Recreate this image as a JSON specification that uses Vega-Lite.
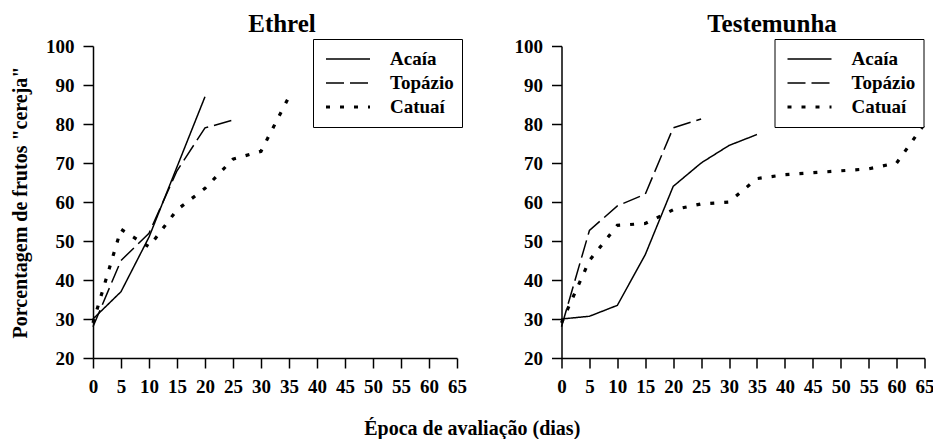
{
  "$schema": "https://vega.github.io/schema/vega-lite/v6.json",
  "background": "white",
  "padding": {"left": 10, "top": 12, "right": 0, "bottom": 0},
  "data": {
    "values": [
      {"trat": "Ethrel", "cultivar": "Acaía", "dia": 0, "pct": 30},
      {"trat": "Ethrel", "cultivar": "Acaía", "dia": 5, "pct": 37},
      {"trat": "Ethrel", "cultivar": "Acaía", "dia": 10, "pct": 51},
      {"trat": "Ethrel", "cultivar": "Acaía", "dia": 15, "pct": 69},
      {"trat": "Ethrel", "cultivar": "Acaía", "dia": 20, "pct": 87},
      {"trat": "Ethrel", "cultivar": "Topázio", "dia": 0, "pct": 28},
      {"trat": "Ethrel", "cultivar": "Topázio", "dia": 5, "pct": 45},
      {"trat": "Ethrel", "cultivar": "Topázio", "dia": 10, "pct": 52},
      {"trat": "Ethrel", "cultivar": "Topázio", "dia": 15, "pct": 68},
      {"trat": "Ethrel", "cultivar": "Topázio", "dia": 20, "pct": 79},
      {"trat": "Ethrel", "cultivar": "Topázio", "dia": 25, "pct": 81},
      {"trat": "Ethrel", "cultivar": "Catuaí", "dia": 0, "pct": 29},
      {"trat": "Ethrel", "cultivar": "Catuaí", "dia": 5, "pct": 53},
      {"trat": "Ethrel", "cultivar": "Catuaí", "dia": 10, "pct": 48.5},
      {"trat": "Ethrel", "cultivar": "Catuaí", "dia": 15, "pct": 58},
      {"trat": "Ethrel", "cultivar": "Catuaí", "dia": 20, "pct": 63.5},
      {"trat": "Ethrel", "cultivar": "Catuaí", "dia": 25, "pct": 71},
      {"trat": "Ethrel", "cultivar": "Catuaí", "dia": 30, "pct": 73},
      {"trat": "Ethrel", "cultivar": "Catuaí", "dia": 35, "pct": 87},
      {"trat": "Testemunha", "cultivar": "Acaía", "dia": 0, "pct": 30},
      {"trat": "Testemunha", "cultivar": "Acaía", "dia": 5, "pct": 30.7},
      {"trat": "Testemunha", "cultivar": "Acaía", "dia": 10, "pct": 33.5},
      {"trat": "Testemunha", "cultivar": "Acaía", "dia": 15, "pct": 46.5},
      {"trat": "Testemunha", "cultivar": "Acaía", "dia": 20, "pct": 64},
      {"trat": "Testemunha", "cultivar": "Acaía", "dia": 25, "pct": 70},
      {"trat": "Testemunha", "cultivar": "Acaía", "dia": 30, "pct": 74.5},
      {"trat": "Testemunha", "cultivar": "Acaía", "dia": 35, "pct": 77.3},
      {"trat": "Testemunha", "cultivar": "Topázio", "dia": 0, "pct": 28},
      {"trat": "Testemunha", "cultivar": "Topázio", "dia": 5, "pct": 52.7},
      {"trat": "Testemunha", "cultivar": "Topázio", "dia": 10, "pct": 59},
      {"trat": "Testemunha", "cultivar": "Topázio", "dia": 15, "pct": 62},
      {"trat": "Testemunha", "cultivar": "Topázio", "dia": 20, "pct": 79},
      {"trat": "Testemunha", "cultivar": "Topázio", "dia": 25, "pct": 81.3},
      {"trat": "Testemunha", "cultivar": "Catuaí", "dia": 0, "pct": 29},
      {"trat": "Testemunha", "cultivar": "Catuaí", "dia": 5, "pct": 45},
      {"trat": "Testemunha", "cultivar": "Catuaí", "dia": 10, "pct": 54},
      {"trat": "Testemunha", "cultivar": "Catuaí", "dia": 15, "pct": 54.5},
      {"trat": "Testemunha", "cultivar": "Catuaí", "dia": 20, "pct": 58},
      {"trat": "Testemunha", "cultivar": "Catuaí", "dia": 25, "pct": 59.5},
      {"trat": "Testemunha", "cultivar": "Catuaí", "dia": 30, "pct": 60},
      {"trat": "Testemunha", "cultivar": "Catuaí", "dia": 35, "pct": 66},
      {"trat": "Testemunha", "cultivar": "Catuaí", "dia": 40, "pct": 67},
      {"trat": "Testemunha", "cultivar": "Catuaí", "dia": 45, "pct": 67.5},
      {"trat": "Testemunha", "cultivar": "Catuaí", "dia": 50, "pct": 68},
      {"trat": "Testemunha", "cultivar": "Catuaí", "dia": 55, "pct": 68.5},
      {"trat": "Testemunha", "cultivar": "Catuaí", "dia": 60, "pct": 70},
      {"trat": "Testemunha", "cultivar": "Catuaí", "dia": 65, "pct": 80}
    ]
  },
  "config": {
    "font": "Liberation Serif",
    "view": {"stroke": null},
    "concat": {"spacing": 46.5},
    "axis": {
      "grid": false,
      "labelFont": "Liberation Serif",
      "labelFontWeight": "bold",
      "labelFontSize": 19,
      "labelColor": "black",
      "domainColor": "black",
      "domainWidth": 1.5,
      "tickColor": "black",
      "tickWidth": 1.5,
      "tickSize": 10,
      "titleFont": "Liberation Serif",
      "titleFontWeight": "bold",
      "titleColor": "black"
    },
    "axisX": {"labelPadding": 9, "labelFlush": false},
    "axisY": {"labelPadding": 9, "titleFontSize": 20, "titlePadding": 15},
    "title": {"font": "Liberation Serif", "fontWeight": "bold", "color": "black"},
    "legend": {
      "orient": "none",
      "title": null,
      "labelFont": "Liberation Serif",
      "labelFontWeight": "bold",
      "labelFontSize": 19,
      "labelColor": "black",
      "symbolType": "stroke",
      "symbolSize": 1936,
      "symbolStrokeColor": "black",
      "clipHeight": 24,
      "rowPadding": 0,
      "padding": 8,
      "strokeColor": "black",
      "fillColor": "white",
      "labelOffset": 18,
      "symbolOffset": 3
    }
  },
  "title": {"text": "Época de avaliação (dias)", "orient": "bottom", "anchor": "middle", "fontSize": 20, "offset": 23},
  "hconcat": [
    {
      "width": 364,
      "height": 312,
      "title": {"text": "Ethrel", "fontSize": 25, "dx": 7, "offset": 0},
      "transform": [{"filter": "datum.trat === 'Ethrel'"}],
      "mark": {"type": "line", "color": "black", "strokeCap": "butt"},
      "encoding": {
        "x": {"field": "dia", "type": "quantitative", "scale": {"domain": [0, 65], "nice": false}, "axis": {"values": [0, 5, 10, 15, 20, 25, 30, 35, 40, 45, 50, 55, 60, 65], "title": null}},
        "y": {"field": "pct", "type": "quantitative", "scale": {"domain": [20, 100], "nice": false, "zero": false}, "axis": {"values": [20, 30, 40, 50, 60, 70, 80, 90, 100], "title": "Porcentagem de frutos \"cereja\""}},
        "strokeDash": {"field": "cultivar", "type": "nominal", "scale": {"domain": ["Acaía", "Topázio", "Catuaí"], "range": [[1, 0], [18, 6], [4, 10]]}, "legend": {"legendX": 220, "legendY": -7}},
        "strokeWidth": {"field": "cultivar", "type": "nominal", "scale": {"type": "ordinal", "domain": ["Acaía", "Topázio", "Catuaí"], "range": [1.5, 1.5, 3.2]}, "legend": {"legendX": 220, "legendY": -7}}
      }
    },
    {
      "width": 363,
      "height": 312,
      "title": {"text": "Testemunha", "fontSize": 25, "dx": 29, "offset": 0},
      "transform": [{"filter": "datum.trat === 'Testemunha'"}],
      "mark": {"type": "line", "color": "black", "strokeCap": "butt"},
      "encoding": {
        "x": {"field": "dia", "type": "quantitative", "scale": {"domain": [0, 65], "nice": false}, "axis": {"values": [0, 5, 10, 15, 20, 25, 30, 35, 40, 45, 50, 55, 60, 65], "title": null}},
        "y": {"field": "pct", "type": "quantitative", "scale": {"domain": [20, 100], "nice": false, "zero": false}, "axis": {"values": [20, 30, 40, 50, 60, 70, 80, 90, 100], "title": null}},
        "strokeDash": {"field": "cultivar", "type": "nominal", "scale": {"domain": ["Acaía", "Topázio", "Catuaí"], "range": [[1, 0], [18, 6], [4, 10]]}, "legend": {"legendX": 213, "legendY": -7}},
        "strokeWidth": {"field": "cultivar", "type": "nominal", "scale": {"type": "ordinal", "domain": ["Acaía", "Topázio", "Catuaí"], "range": [1.5, 1.5, 3.2]}, "legend": {"legendX": 213, "legendY": -7}}
      }
    }
  ],
  "resolve": {"scale": {"strokeDash": "independent", "strokeWidth": "independent"}, "legend": {"strokeDash": "independent", "strokeWidth": "independent"}}
}
